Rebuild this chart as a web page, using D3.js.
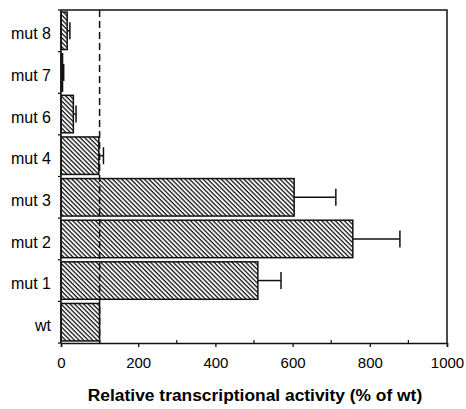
<!DOCTYPE html>
<html>
<head>
<meta charset="utf-8">
<script src="https://cdn.jsdelivr.net/npm/d3@7"></script>
<style>
  body { margin: 0; background: #fff; }
  svg { display: block; font-family: "Liberation Sans", Arial, sans-serif; }
</style>
</head>
<body>
<div id="canvas"></div>
<script>
"use strict";

// Data
let categories = ["wt", "mut 1", "mut 2", "mut 3", "mut 4", "mut 6", "mut 7", "mut 8"];
let activity = [100, 510, 756, 604, 98, 32, 4, 16];
let errors = [0, 60, 122, 108, 12, 7, 3, 7];
let xTicks = [0, 200, 400, 600, 800, 1000];
let minorTicks = [100, 300, 500, 700, 900];
let wtLevel = 100;

let svgWidth = 466;
let svgHeight = 409;

let plotLeft = 61, plotRight = 447, plotTop = 10, plotBottom = 343;

let svg = d3.select("#canvas")
    .append("svg")
    .attr("width", svgWidth)
    .attr("height", svgHeight);

// hatch pattern
let defs = svg.append("defs");
defs.append("pattern")
    .attr("id", "hatch")
    .attr("patternUnits", "userSpaceOnUse")
    .attr("width", 3.2)
    .attr("height", 3.2)
    .attr("patternTransform", "rotate(-45)")
    .call(p => {
        p.append("rect").attr("width", 3.2).attr("height", 3.2).attr("fill", "#fff");
        p.append("line")
            .attr("x1", 1).attr("y1", 0)
            .attr("x2", 1).attr("y2", 3.2)
            .attr("stroke", "#111")
            .attr("stroke-width", 1.3);
    });

// Scales
let xScale = d3.scaleLinear()
    .domain([0, 1000])
    .range([plotLeft, plotRight]);

let yScale = d3.scaleBand()
    .domain(categories.slice().reverse())
    .range([plotTop, plotBottom])
    .paddingInner(0.1)
    .paddingOuter(0.05);

let rows = categories.map((c, i) => ({ name: c, value: activity[i], err: errors[i] }));

// frame (top and right)
svg.append("path")
    .attr("d", `M${plotLeft},${plotTop}H${plotRight}V${plotBottom}`)
    .attr("fill", "none")
    .attr("stroke", "#111")
    .attr("stroke-width", 1.5);

// Bars
svg.selectAll("rect.bar")
    .data(rows)
    .join("rect")
    .attr("class", "bar")
    .attr("x", xScale(0))
    .attr("y", d => yScale(d.name))
    .attr("width", d => xScale(d.value) - xScale(0))
    .attr("height", yScale.bandwidth())
    .attr("fill", "url(#hatch)")
    .attr("stroke", "#111")
    .attr("stroke-width", 1.5);

// Error bars (positive side only)
let errRows = rows.filter(d => d.err > 0);
let capHalf = 8.5;

svg.selectAll("line.err")
    .data(errRows)
    .join("line")
    .attr("class", "err")
    .attr("x1", d => xScale(d.value))
    .attr("x2", d => xScale(d.value + d.err))
    .attr("y1", d => yScale(d.name) + yScale.bandwidth() / 2)
    .attr("y2", d => yScale(d.name) + yScale.bandwidth() / 2)
    .attr("stroke", "#111")
    .attr("stroke-width", 1.5);

svg.selectAll("line.cap")
    .data(errRows)
    .join("line")
    .attr("class", "cap")
    .attr("x1", d => xScale(d.value + d.err))
    .attr("x2", d => xScale(d.value + d.err))
    .attr("y1", d => yScale(d.name) + yScale.bandwidth() / 2 - capHalf)
    .attr("y2", d => yScale(d.name) + yScale.bandwidth() / 2 + capHalf)
    .attr("stroke", "#111")
    .attr("stroke-width", 1.5);

// dashed reference line at wt level
svg.append("line")
    .attr("x1", xScale(wtLevel))
    .attr("x2", xScale(wtLevel))
    .attr("y1", plotTop)
    .attr("y2", plotBottom)
    .attr("stroke", "#111")
    .attr("stroke-width", 1.5)
    .attr("stroke-dasharray", "7,4");

// X axis
let xAxis = svg.append("g")
    .attr("transform", `translate(0, ${plotBottom})`)
    .call(d3.axisBottom(xScale)
        .tickValues(xTicks)
        .tickSize(4)
        .tickPadding(10)
        .tickFormat(d3.format("d")));
xAxis.select(".domain").attr("stroke", "#111").attr("stroke-width", 1.5);
xAxis.selectAll(".tick line").attr("stroke", "#111").attr("stroke-width", 1.3);
xAxis.selectAll("text")
    .attr("font-size", 15)
    .attr("font-family", "Liberation Sans, Arial, sans-serif")
    .attr("fill", "#000");

// minor ticks pointing up
svg.append("g")
    .selectAll("line")
    .data(minorTicks)
    .join("line")
    .attr("x1", d => xScale(d))
    .attr("x2", d => xScale(d))
    .attr("y1", plotBottom)
    .attr("y2", plotBottom - 3)
    .attr("stroke", "#111")
    .attr("stroke-width", 1.2);

// Y axis: boundary ticks and labels
let yAxis = svg.append("g");
yAxis.append("line")
    .attr("x1", plotLeft).attr("x2", plotLeft)
    .attr("y1", plotTop).attr("y2", plotBottom)
    .attr("stroke", "#111")
    .attr("stroke-width", 1.5);

let step = (plotBottom - plotTop) / categories.length;
yAxis.selectAll("line.tk")
    .data(d3.range(categories.length + 1))
    .join("line")
    .attr("class", "tk")
    .attr("x1", plotLeft - 3)
    .attr("x2", plotLeft)
    .attr("y1", i => plotTop + i * step)
    .attr("y2", i => plotTop + i * step)
    .attr("stroke", "#111")
    .attr("stroke-width", 1.3);

yAxis.selectAll("text")
    .data(categories)
    .join("text")
    .attr("x", 51)
    .attr("y", d => yScale(d) + yScale.bandwidth() / 2 + 3)
    .attr("dy", "0.35em")
    .attr("text-anchor", "end")
    .attr("font-size", 16)
    .attr("fill", "#000")
    .text(d => d);

// Axis title
svg.append("text")
    .attr("x", 255)
    .attr("y", 401)
    .attr("text-anchor", "middle")
    .attr("font-size", 17.4)
    .attr("font-weight", "bold")
    .attr("fill", "#000")
    .text("Relative transcriptional activity (% of wt)");
</script>
</body>
</html>
